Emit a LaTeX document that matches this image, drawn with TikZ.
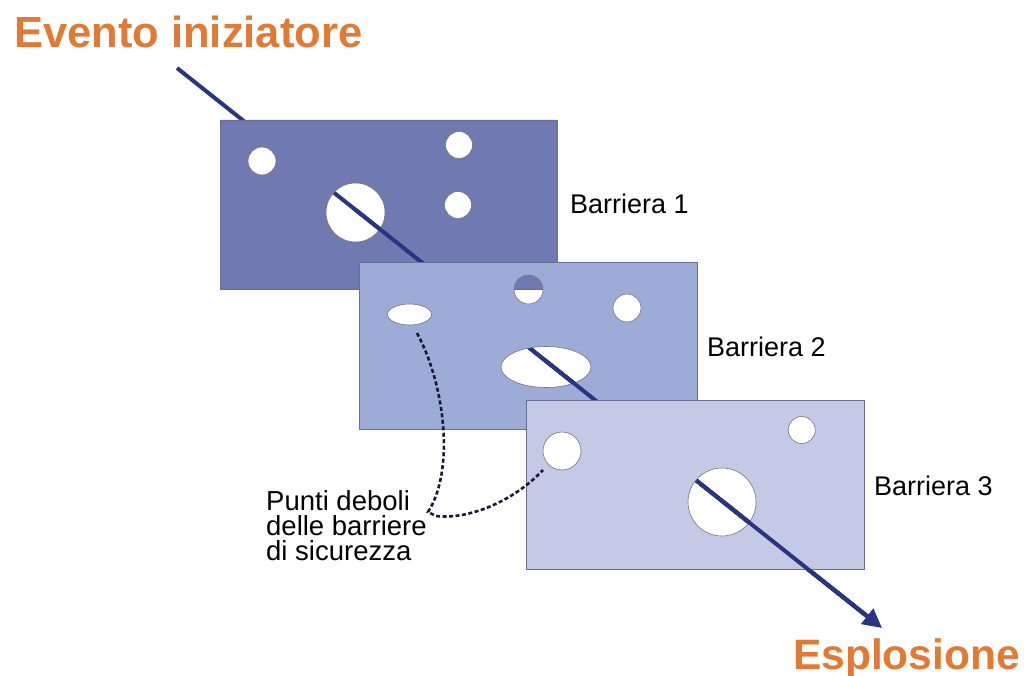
\documentclass[tikz,border=0pt]{standalone}
\usepackage{fontspec}
\setmainfont{Liberation Sans}
\usetikzlibrary{arrows.meta,calc}
\definecolor{orng}{RGB}{224,122,52}
\definecolor{navy}{RGB}{42,52,130}
\definecolor{bone}{RGB}{112,122,176}
\definecolor{btwo}{RGB}{157,171,215}
\definecolor{bthree}{RGB}{196,202,230}
\definecolor{holeedge}{RGB}{120,120,130}
\definecolor{edgeg}{RGB}{105,110,150}
\definecolor{dashc}{RGB}{25,25,55}
\begin{document}
\begin{tikzpicture}[x=1pt,y=-1pt,
  shaft/.style={line width=4pt, draw=navy},
  hole/.style={draw=holeedge, line width=0.6pt},
  rim/.style={draw=edgeg, line width=0.8pt},
  lbl/.style={font=\fontsize{27}{25}\selectfont, anchor=base west, inner sep=0pt},
  big/.style={font=\fontsize{43.5}{43.5}\selectfont\bfseries, text=orng, anchor=base west, inner sep=0pt},
  weak/.style={draw=dashc, line width=2.6pt, dash pattern=on 4pt off 2.5pt}]
\useasboundingbox (0,0) rectangle (1024,676);
\fill[white] (0,0) rectangle (1024,676);
\coordinate (S) at (177,68);
\coordinate (T) at (882,628);
\coordinate (H1) at ($(S)!0.253!(T)$);
\coordinate (H2) at ($(S)!0.5234!(T)$);
\coordinate (H3) at ($(S)!0.773!(T)$);
% line behind barrier 1
\draw[shaft, shorten >=12pt] (S) -- (T);
% barrier 1
\fill[bone, even odd rule] (220,120) rectangle (557,289)
  (262,161) circle[radius=14pt] (459,145) circle[radius=13.5pt]
  (458,205) circle[radius=13.5pt] (355.5,212.5) circle[radius=29.5pt];
\draw[rim] (220,120) rectangle (557,289);
\draw[hole] (262,161) circle[radius=14pt] (459,145) circle[radius=13.5pt]
  (458,205) circle[radius=13.5pt] (355.5,212.5) circle[radius=29.5pt];
\draw[shaft, shorten >=12pt] (H1) -- (T);
% barrier 2
\fill[btwo, even odd rule] (359,262) rectangle (697.5,429)
  (409.5,314.5) ellipse[x radius=22pt, y radius=10.5pt]
  (528.5,289.5) circle[radius=14.5pt] (627,308) circle[radius=14pt]
  (546,367) ellipse[x radius=45pt, y radius=20.5pt];
\draw[rim] (359,262) rectangle (697.5,429);
\draw[hole] (409.5,314.5) ellipse[x radius=22pt, y radius=10.5pt]
  (528.5,289.5) circle[radius=14.5pt] (627,308) circle[radius=14pt]
  (546,367) ellipse[x radius=45pt, y radius=20.5pt];
\draw[shaft, shorten >=12pt] (H2) -- (T);
% barrier 3
\fill[bthree, even odd rule] (526,400) rectangle (864,569)
  (562,451) circle[radius=19pt] (801.7,430) circle[radius=13.5pt]
  (722,502) circle[radius=34pt];
\draw[rim] (526,400) rectangle (864,569);
\draw[hole] (562,451) circle[radius=19pt] (801.7,430) circle[radius=13.5pt]
  (722,502) circle[radius=34pt];
\draw[shaft, -{Triangle[length=19pt,width=19pt]}] (H3) -- (T);
% labels
\node[big] (ev) at (14,48) {Evento iniziatore};
\node[big, font=\fontsize{42.5}{42.5}\selectfont\bfseries] (ex) at (793,669) {Esplosione};
\node[lbl] (l1) at (570,214) {Barriera 1};
\node[lbl] (l2) at (707,356) {Barriera 2};
\node[lbl] (l3) at (874,495) {Barriera 3};
\node[lbl, align=left, font=\fontsize{27.5}{25}\selectfont] (pd) at (266,560) {Punti deboli\\delle barriere\\di sicurezza};
% weak point pointers
\coordinate (w1) at (417,333);
\coordinate (w2) at (428,512);
\coordinate (w3) at (436,516);
\coordinate (w4) at (543,470);
\draw[weak] (w1) .. controls (445,385) and (455,470) .. (w2) -- (w3)
  .. controls (470,520) and (515,500) .. (w4);
\end{tikzpicture}
\end{document}
